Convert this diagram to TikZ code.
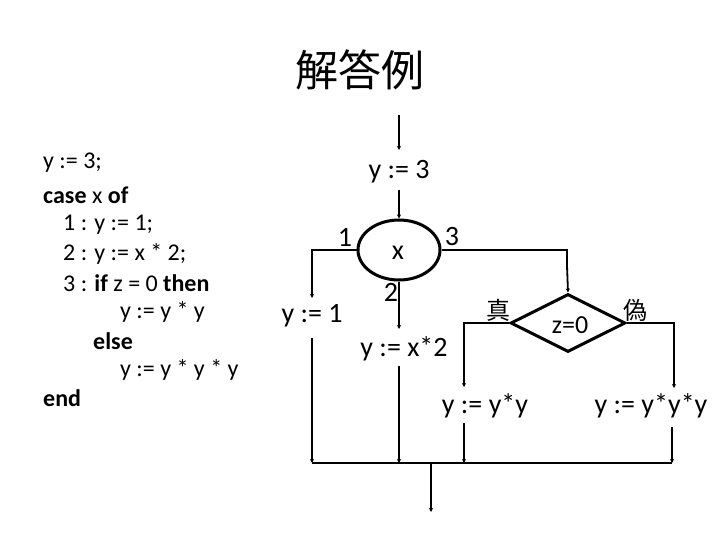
\documentclass[tikz,border=0pt]{standalone}
\usepackage{fontspec}
\setmainfont{Carlito}
\newfontfamily\cjk{Noto Sans CJK JP}
\usetikzlibrary{arrows.meta,shapes.geometric}
\begin{document}
\begin{tikzpicture}[x=1pt,y=-1pt,
  code/.style={anchor=west,inner sep=0pt,font=\fontsize{24}{26}\selectfont},
  lbl/.style={inner sep=1pt,font=\fontsize{28}{32}\selectfont},
  flow/.style={line width=1.3pt},
  arr/.style={line width=1.8pt,-{Stealth[length=4pt,width=4pt]}},
  thickshape/.style={draw,line width=3pt}]
\useasboundingbox (0,0) rectangle (720,540);
% title
\node[font=\cjk\fontsize{43}{46}\selectfont] (title) at (360,70) {解答例};
% code
\node[code] (c1) at (43,163) {y := 3;};
\node[code] (c2) at (43,195) {\textbf{case} x \textbf{of}};
\node[code] (c3) at (63,225) {1 : y := 1;};
\node[code] (c4) at (63,254) {2 : y := x * 2;};
\node[code] (c5) at (63,283) {3 : \textbf{if} z = 0 \textbf{then}};
\node[code] (c6) at (120,312) {y := y * y};
\node[code] (c7) at (93,341) {\textbf{else}};
\node[code] (c8) at (120,370) {y := y * y * y};
\node[code] (c9) at (43,398) {\textbf{end}};
% flowchart
\coordinate (top) at (399,115);
\node[lbl] (y3) at (399,172) {y := 3};
\node[ellipse,thickshape,minimum width=82pt,minimum height=60pt,inner sep=0pt] (sw) at (399,250) {};
\node[lbl] (xv) at (398,253) {x};
\node[lbl] (l1) at (345,237) {1};
\node[lbl] (l3) at (452,237) {3};
\node[lbl] (l2) at (391,292) {2};
\node[lbl] (y1) at (312,316) {y := 1};
\node[lbl] (yx2) at (404,349) {y := x*2};
\node[diamond,thickshape,minimum width=115pt,minimum height=58pt,inner sep=0pt,aspect=2] (dz) at (568,323) {};
\node[lbl,font=\fontsize{26}{30}\selectfont] (zt) at (570,325) {z=0};
\node[font=\cjk\fontsize{24}{26}\selectfont,inner sep=0pt] (tr) at (498,310) {真};
\node[font=\cjk\fontsize{24}{26}\selectfont,inner sep=0pt] (fa) at (635,310) {偽};
\node[lbl] (yyy) at (485,406) {y := y*y};
\node[lbl] (yyyy) at (651,406) {y := y*y*y};
\coordinate (m1) at (312,463);
\coordinate (m2) at (399,463);
\coordinate (m3) at (464,463);
\coordinate (m4) at (672,463);
\coordinate (mo) at (431,463);
\coordinate (out) at (431,512);
% connectors
\draw[arr] (top) -- (399,150);
\draw[arr] (399,190) -- (sw.north);
\draw[flow] (sw.west) -| (312,270);
\draw[arr] (312,265) -- (312,298);
\draw[arr] (312,338) -- (m1);
\draw[arr] (sw.south) -- (399,329);
\draw[arr] (399,366) -- (m2);
\draw[flow] (sw.east) -| (567,270);
\draw[arr] (567,265) -- (dz.north);
\draw[flow] (dz.west) -| (464,360);
\draw[arr] (464,355) -- (464,387);
\draw[arr] (464,423) -- (m3);
\draw[flow] (dz.east) -| (674,360);
\draw[arr] (674,355) -- (674,388);
\draw[arr] (672,427) -- (m4);
\draw[flow] (m1) -- (m4);
\draw[arr] (mo) -- (out);
\end{tikzpicture}
\end{document}
